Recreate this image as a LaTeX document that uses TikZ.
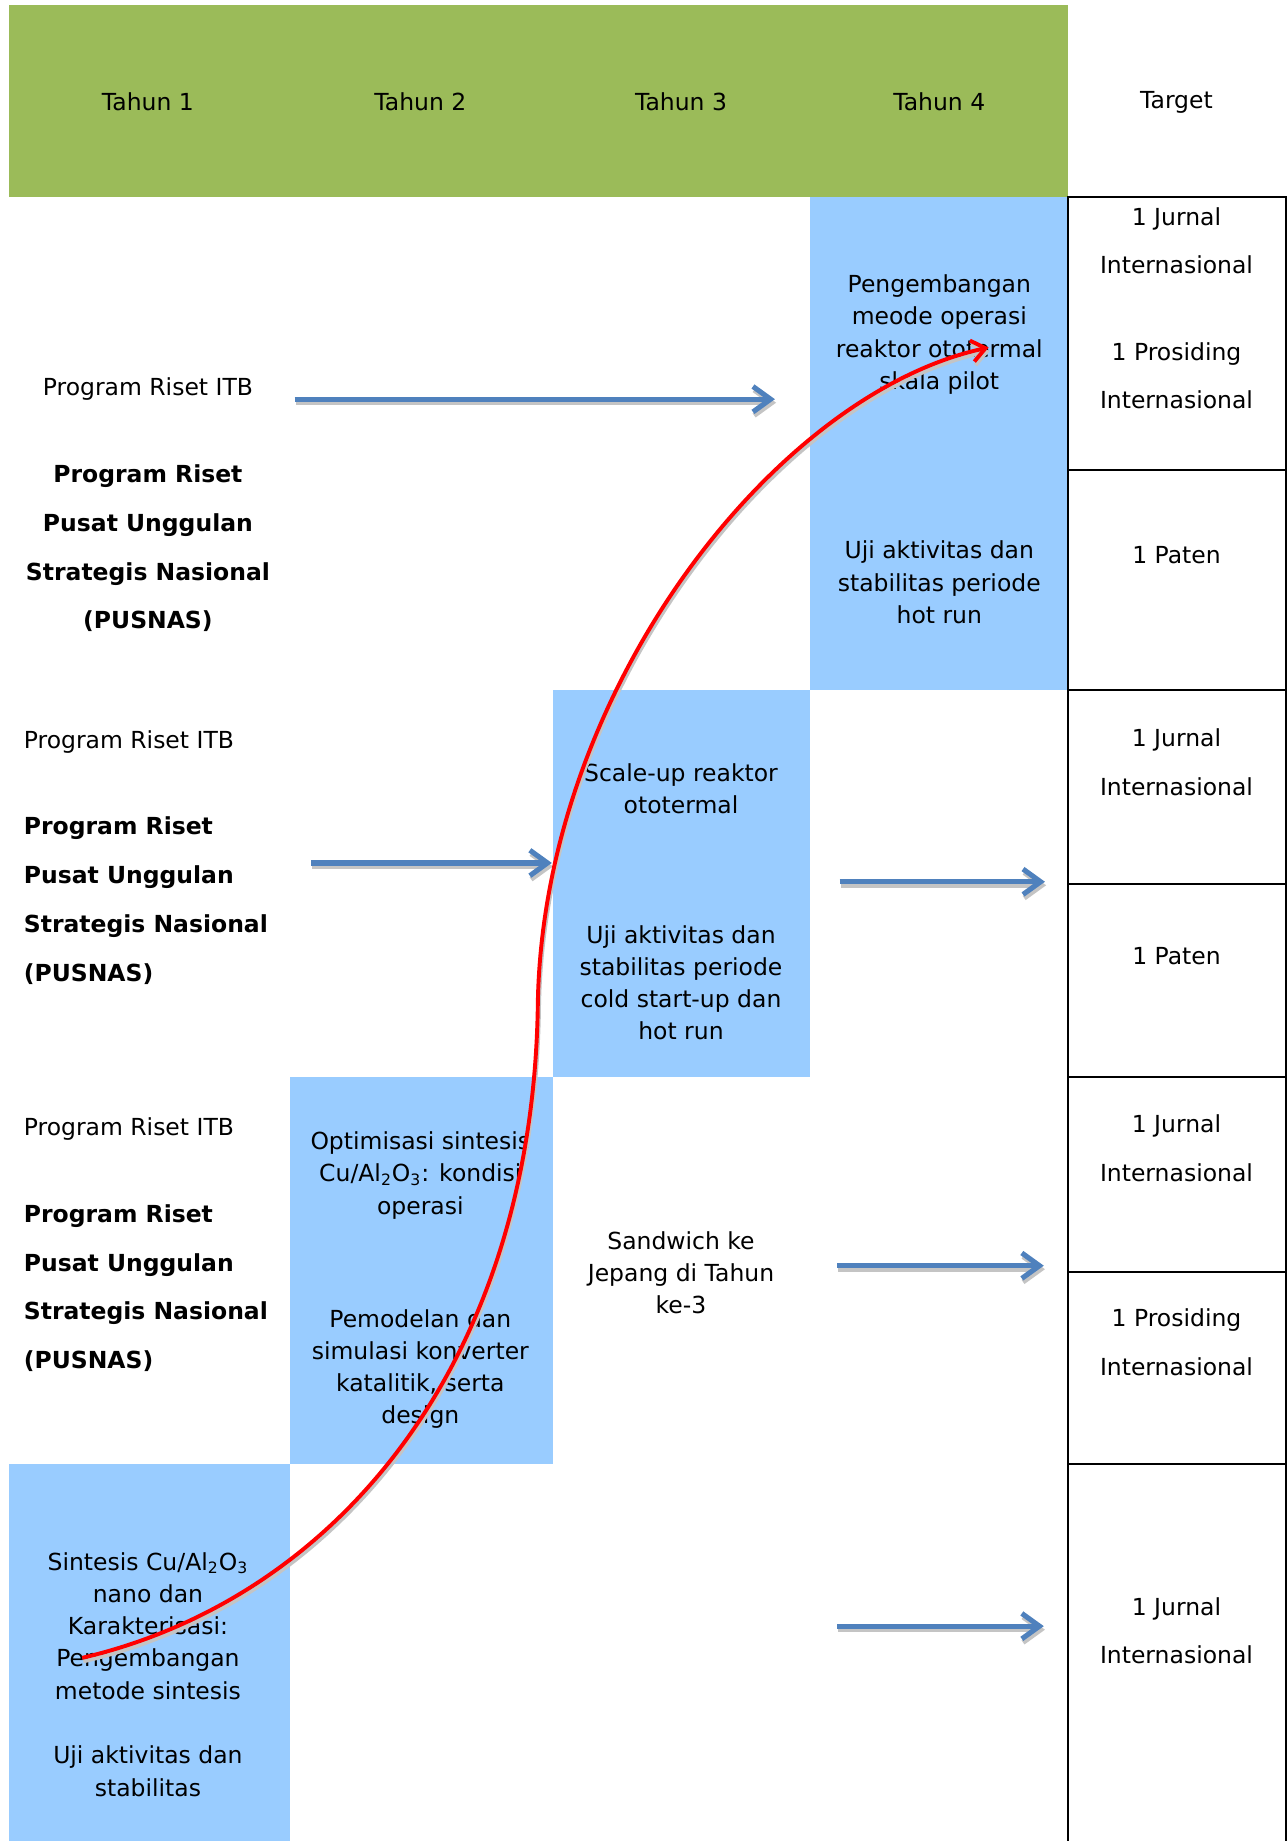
\documentclass[tikz,border=0pt]{standalone}
\usepackage{fontspec}
\setmainfont{DejaVu Sans}
\usetikzlibrary{arrows.meta}
\definecolor{headgreen}{HTML}{9BBB59}
\definecolor{boxblue}{HTML}{99CCFF}
\definecolor{arrowblue}{HTML}{4F81BD}
\definecolor{shadowgray}{HTML}{C4C4C4}

\begin{document}
\begin{tikzpicture}[x=0.6pt,y=-0.6pt]
\tikzset{
  celltext/.style={inner sep=0pt,align=center,font=\fontsize{12}{16.5}\selectfont},
  sidetext/.style={inner sep=0pt,align=center,font=\fontsize{12}{24.9}\selectfont},
  sidebold/.style={sidetext,font=\fontsize{12}{24.9}\selectfont\bfseries},
  tableline/.style={draw=black,line width=1pt,line cap=rect},
  bluearrow/.style={draw=arrowblue,line width=2.6pt,-{Straight Barb[length=9pt,width=13pt]}},
  redcurve/.style={draw=red,line width=2pt,-{Straight Barb[length=7pt,width=11pt]}},
  shadowline/.style={draw=shadowgray,transform canvas={xshift=0.6pt,yshift=-1.8pt}}
}
\useasboundingbox (0,0) rectangle (1096,1568);
\fill[headgreen] (8,4) rectangle (910,168);
\fill[boxblue] (690,168) rectangle (910,588);
\fill[boxblue] (471,588) rectangle (690,917);
\fill[boxblue] (247,917) rectangle (471,1247);
\fill[boxblue] (8,1247) rectangle (247,1568);
\foreach \yy in {168,400,588,753,917,1083,1247}
  \draw[tableline] (910,\yy) -- (1095,\yy);
\draw[tableline] (910,168) -- (910,1568);
\draw[tableline] (1095,168) -- (1095,1568);
\node[celltext] (n_th1) at (126,87) {Tahun 1};
\node[celltext] (n_th2) at (358,87) {Tahun 2};
\node[celltext] (n_th3) at (580,87) {Tahun 3};
\node[celltext] (n_th4) at (800,87) {Tahun 4};
\node[celltext] (n_target) at (1002,87) {Target};
\node[sidetext] (n_itb1) at (126,331) {Program Riset ITB};
\node[sidebold] (n_pus1) at (126,467) {Program Riset\\Pusat Unggulan\\Strategis Nasional\\(PUSNAS)};
\node[sidetext,anchor=west] (n_itb2) at (20,632) {Program Riset ITB};
\node[sidebold,anchor=west,align=left] (n_pus2) at (20,767) {Program Riset\\Pusat Unggulan\\Strategis Nasional\\(PUSNAS)};
\node[sidetext,anchor=west] (n_itb3) at (20,962) {Program Riset ITB};
\node[sidebold,anchor=west,align=left] (n_pus3) at (20,1097) {Program Riset\\Pusat Unggulan\\Strategis Nasional\\(PUSNAS)};
\node[celltext] (n_pilot) at (800,285) {Pengembangan\\meode operasi\\reaktor ototermal\\skala pilot};
\node[celltext] (n_hotrun) at (800,496) {Uji aktivitas dan\\stabilitas periode\\hot run};
\node[celltext] (n_scale) at (580,672) {Scale-up reaktor\\ototermal};
\node[celltext] (n_cold) at (580,837) {Uji aktivitas dan\\stabilitas periode\\cold start-up dan\\hot run};
\node[celltext] (n_optim) at (358,1001) {Optimisasi sintesis\\Cu/Al\textsubscript{2}O\textsubscript{3}: kondisi\\operasi};
\node[celltext] (n_model) at (358,1166) {Pemodelan dan\\simulasi konverter\\katalitik, serta\\design};
\node[celltext] (n_sandwich) at (580,1084) {Sandwich ke\\Jepang di Tahun\\ke-3};
\node[celltext] (n_sintesis) at (126,1426) {Sintesis Cu/Al\textsubscript{2}O\textsubscript{3}\\nano dan\\Karakterisasi:\\Pengembangan\\metode sintesis\\[16.5pt]Uji aktivitas dan\\stabilitas};
\node[sidetext] (n_tg1a) at (1002,205) {1 Jurnal\\Internasional};
\node[sidetext] (n_tg1b) at (1002,320) {1 Prosiding\\Internasional};
\node[sidetext] (n_tg2) at (1002,473) {1 Paten};
\node[sidetext] (n_tg3) at (1002,649) {1 Jurnal\\Internasional};
\node[sidetext] (n_tg4) at (1002,814) {1 Paten};
\node[sidetext] (n_tg5) at (1002,978) {1 Jurnal\\Internasional};
\node[sidetext] (n_tg6) at (1002,1143) {1 Prosiding\\Internasional};
\node[sidetext] (n_tg7) at (1002,1389) {1 Jurnal\\Internasional};
\foreach \sx/\ex/\yy [count=\i] in {251/660/340,265/470/735,715/890/751,713/889/1078,713/889/1385}{
  \coordinate (a_start\i) at (\sx,\yy);
  \coordinate (a_end\i) at (\ex,\yy);
  \draw[bluearrow,shadowline] (a_start\i) -- (a_end\i);
  \draw[bluearrow] (a_start\i) -- (a_end\i);
}
\coordinate (c_start) at (70,1412);
\coordinate (c_mid) at (458,860);
\coordinate (c_end) at (842,296);
\draw[redcurve,shadowline] (c_start) .. controls (284,1362) and (452,1165) .. (c_mid) .. controls (460,590) and (660,335) .. (c_end);
\draw[redcurve] (c_start) .. controls (284,1362) and (452,1165) .. (c_mid) .. controls (460,590) and (660,335) .. (c_end);
\end{tikzpicture}
\end{document}
